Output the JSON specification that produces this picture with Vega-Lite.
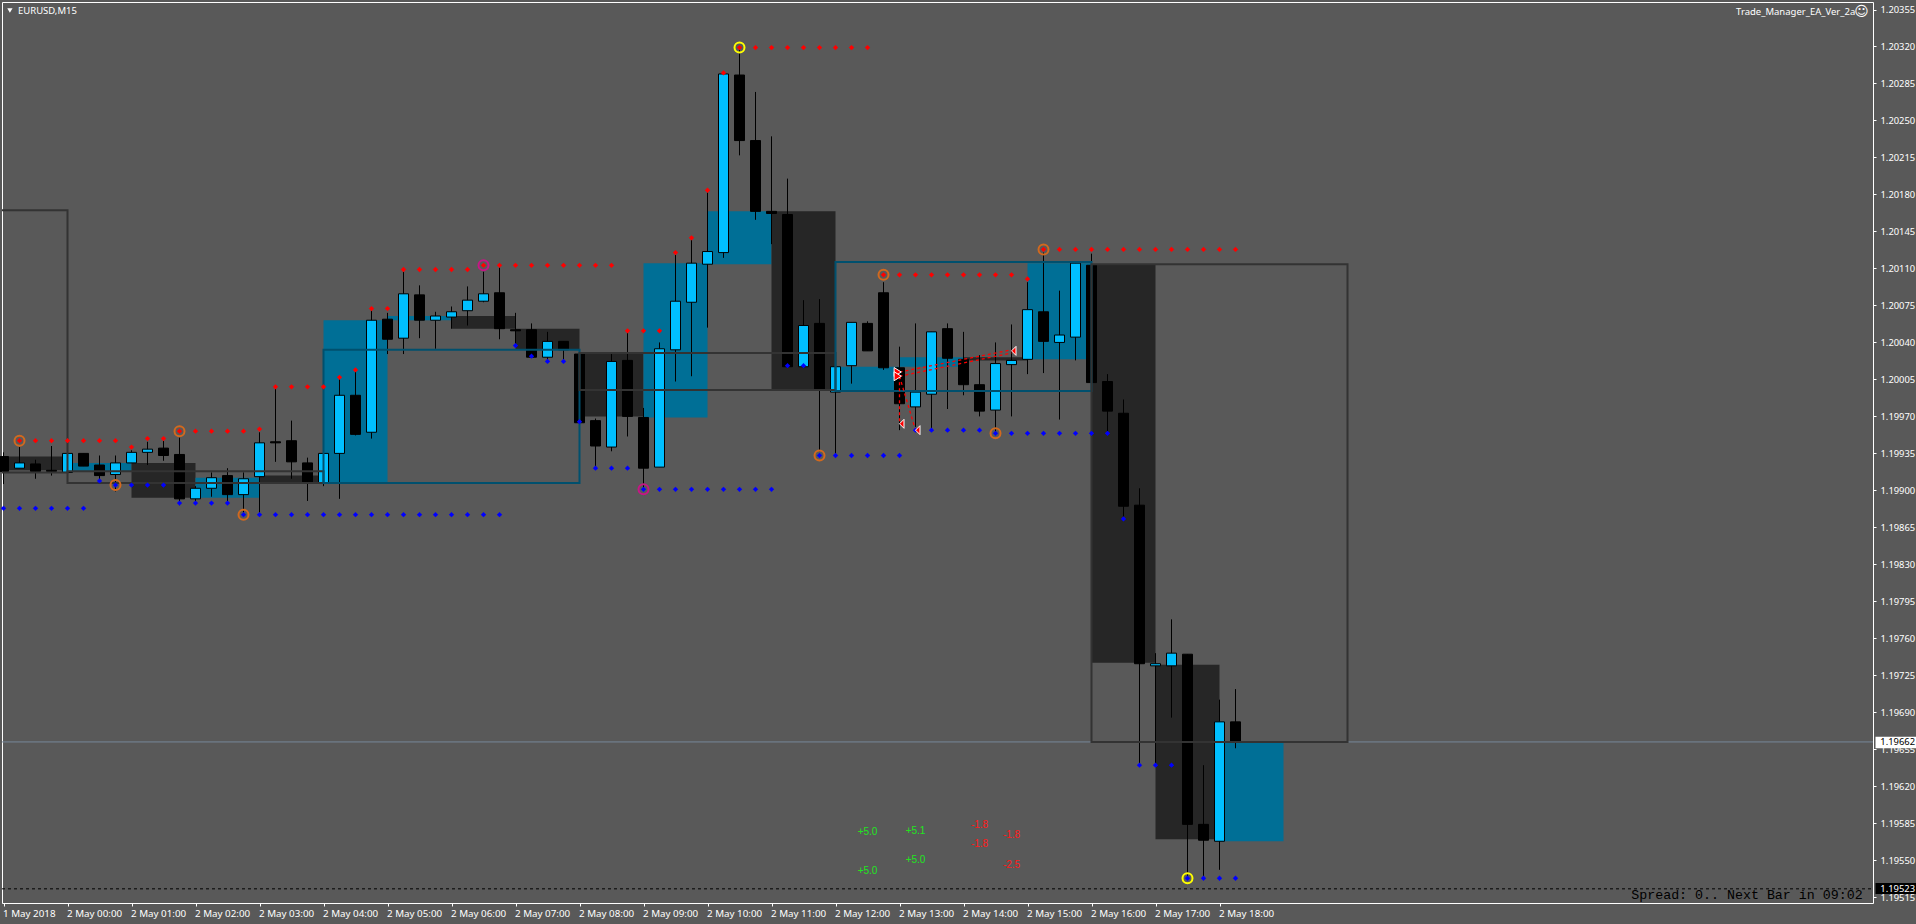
{"$schema":"https://vega.github.io/schema/vega-lite/v6.json",
"width":1871,"height":901,"autosize":{"type":"none"},"padding":{"left":2,"top":2,"right":43,"bottom":21},
"background":"#595959",
"config":{"view":{"stroke":"#ffffff","strokeWidth":1,"fill":"#595959"},"font":"Noto Sans"},
"datasets":{
"candles":[
{"t":"2018-05-01T23:00Z","o":1.19932,"h":1.19936,"l":1.19906,"c":1.19918},
{"t":"2018-05-01T23:15Z","o":1.19921,"h":1.19941,"l":1.19921,"c":1.19926},
{"t":"2018-05-01T23:30Z","o":1.19925,"h":1.19929,"l":1.19911,"c":1.19918},
{"t":"2018-05-01T23:45Z","o":1.19919,"h":1.19942,"l":1.19914,"c":1.19918},
{"t":"2018-05-02T00:00Z","o":1.19917,"h":1.19935,"l":1.19917,"c":1.19935},
{"t":"2018-05-02T00:15Z","o":1.19935,"h":1.19935,"l":1.19923,"c":1.19923},
{"t":"2018-05-02T00:30Z","o":1.19924,"h":1.19933,"l":1.19908,"c":1.19914},
{"t":"2018-05-02T00:45Z","o":1.19915,"h":1.19933,"l":1.19899,"c":1.19926},
{"t":"2018-05-02T01:00Z","o":1.19926,"h":1.19938,"l":1.19926,"c":1.19936},
{"t":"2018-05-02T01:15Z","o":1.19936,"h":1.19946,"l":1.19924,"c":1.19939},
{"t":"2018-05-02T01:30Z","o":1.1994,"h":1.19947,"l":1.19928,"c":1.19933},
{"t":"2018-05-02T01:45Z","o":1.19934,"h":1.1995,"l":1.19886,"c":1.19892},
{"t":"2018-05-02T02:00Z","o":1.19892,"h":1.19904,"l":1.19888,"c":1.19902},
{"t":"2018-05-02T02:15Z","o":1.19902,"h":1.19917,"l":1.19894,"c":1.19912},
{"t":"2018-05-02T02:30Z","o":1.19914,"h":1.19921,"l":1.19888,"c":1.19896},
{"t":"2018-05-02T02:45Z","o":1.19896,"h":1.19917,"l":1.19879,"c":1.19911},
{"t":"2018-05-02T03:00Z","o":1.19913,"h":1.19955,"l":1.19879,"c":1.19945},
{"t":"2018-05-02T03:15Z","o":1.19946,"h":1.19997,"l":1.19927,"c":1.19945},
{"t":"2018-05-02T03:30Z","o":1.19947,"h":1.19966,"l":1.19911,"c":1.19927},
{"t":"2018-05-02T03:45Z","o":1.19926,"h":1.19931,"l":1.1989,"c":1.19908},
{"t":"2018-05-02T04:00Z","o":1.19907,"h":1.19935,"l":1.19904,"c":1.19935},
{"t":"2018-05-02T04:15Z","o":1.19935,"h":1.20007,"l":1.19892,"c":1.1999},
{"t":"2018-05-02T04:30Z","o":1.1999,"h":1.20014,"l":1.19952,"c":1.19953},
{"t":"2018-05-02T04:45Z","o":1.19955,"h":1.20071,"l":1.19949,"c":1.20061},
{"t":"2018-05-02T05:00Z","o":1.20062,"h":1.20068,"l":1.20029,"c":1.20043},
{"t":"2018-05-02T05:15Z","o":1.20044,"h":1.20107,"l":1.20029,"c":1.20086},
{"t":"2018-05-02T05:30Z","o":1.20085,"h":1.20094,"l":1.20044,"c":1.20061},
{"t":"2018-05-02T05:45Z","o":1.20061,"h":1.20069,"l":1.20034,"c":1.20065},
{"t":"2018-05-02T06:00Z","o":1.20064,"h":1.20074,"l":1.20053,"c":1.20069},
{"t":"2018-05-02T06:15Z","o":1.2007,"h":1.20093,"l":1.20056,"c":1.2008},
{"t":"2018-05-02T06:30Z","o":1.20079,"h":1.20107,"l":1.20078,"c":1.20086},
{"t":"2018-05-02T06:45Z","o":1.20087,"h":1.20111,"l":1.20043,"c":1.20053},
{"t":"2018-05-02T07:00Z","o":1.20052,"h":1.20068,"l":1.20036,"c":1.20051},
{"t":"2018-05-02T07:15Z","o":1.20052,"h":1.20058,"l":1.20026,"c":1.20026},
{"t":"2018-05-02T07:30Z","o":1.20026,"h":1.2005,"l":1.20022,"c":1.20041},
{"t":"2018-05-02T07:45Z","o":1.20041,"h":1.20041,"l":1.20022,"c":1.20033},
{"t":"2018-05-02T08:00Z","o":1.20029,"h":1.20029,"l":1.19964,"c":1.19964},
{"t":"2018-05-02T08:15Z","o":1.19966,"h":1.19968,"l":1.19921,"c":1.19942},
{"t":"2018-05-02T08:30Z","o":1.19941,"h":1.20029,"l":1.19937,"c":1.20022},
{"t":"2018-05-02T08:45Z","o":1.20023,"h":1.20049,"l":1.19951,"c":1.1997},
{"t":"2018-05-02T09:00Z","o":1.19969,"h":1.19978,"l":1.199,"c":1.19921},
{"t":"2018-05-02T09:15Z","o":1.19922,"h":1.2004,"l":1.19922,"c":1.20034},
{"t":"2018-05-02T09:30Z","o":1.20033,"h":1.20123,"l":1.20003,"c":1.20079},
{"t":"2018-05-02T09:45Z","o":1.20078,"h":1.20137,"l":1.20008,"c":1.20115},
{"t":"2018-05-02T10:00Z","o":1.20114,"h":1.20182,"l":1.20054,"c":1.20126},
{"t":"2018-05-02T10:15Z","o":1.20125,"h":1.20295,"l":1.2012,"c":1.20294},
{"t":"2018-05-02T10:30Z","o":1.20293,"h":1.20317,"l":1.20217,"c":1.20231},
{"t":"2018-05-02T10:45Z","o":1.20231,"h":1.20277,"l":1.20156,"c":1.20164},
{"t":"2018-05-02T11:00Z","o":1.20164,"h":1.20235,"l":1.20133,"c":1.20162},
{"t":"2018-05-02T11:15Z","o":1.20161,"h":1.20195,"l":1.20017,"c":1.20017},
{"t":"2018-05-02T11:30Z","o":1.20017,"h":1.2008,"l":1.20017,"c":1.20056},
{"t":"2018-05-02T11:45Z","o":1.20058,"h":1.20081,"l":1.19937,"c":1.19996},
{"t":"2018-05-02T12:00Z","o":1.19993,"h":1.20017,"l":1.19933,"c":1.20017},
{"t":"2018-05-02T12:15Z","o":1.20018,"h":1.20059,"l":1.20001,"c":1.20059},
{"t":"2018-05-02T12:30Z","o":1.20058,"h":1.2006,"l":1.20032,"c":1.20032},
{"t":"2018-05-02T12:45Z","o":1.20087,"h":1.20097,"l":1.20014,"c":1.20016},
{"t":"2018-05-02T13:00Z","o":1.20016,"h":1.20036,"l":1.19957,"c":1.19982},
{"t":"2018-05-02T13:15Z","o":1.19979,"h":1.20058,"l":1.1996,"c":1.19993},
{"t":"2018-05-02T13:30Z","o":1.19991,"h":1.2005,"l":1.19957,"c":1.2005},
{"t":"2018-05-02T13:45Z","o":1.20053,"h":1.20058,"l":1.19977,"c":1.20025},
{"t":"2018-05-02T14:00Z","o":1.20024,"h":1.2005,"l":1.1999,"c":1.2},
{"t":"2018-05-02T14:15Z","o":1.2,"h":1.20028,"l":1.1997,"c":1.19975},
{"t":"2018-05-02T14:30Z","o":1.19976,"h":1.2004,"l":1.19954,"c":1.2002},
{"t":"2018-05-02T14:45Z","o":1.20019,"h":1.20057,"l":1.1997,"c":1.20023},
{"t":"2018-05-02T15:00Z","o":1.20024,"h":1.20097,"l":1.2001,"c":1.20071},
{"t":"2018-05-02T15:15Z","o":1.20069,"h":1.20125,"l":1.20011,"c":1.20041},
{"t":"2018-05-02T15:30Z","o":1.2004,"h":1.20089,"l":1.19967,"c":1.20047},
{"t":"2018-05-02T15:45Z","o":1.20045,"h":1.20115,"l":1.20023,"c":1.20115},
{"t":"2018-05-02T16:00Z","o":1.20113,"h":1.20124,"l":1.20002,"c":1.20002},
{"t":"2018-05-02T16:15Z","o":1.20003,"h":1.2001,"l":1.19954,"c":1.19975},
{"t":"2018-05-02T16:30Z","o":1.19973,"h":1.19986,"l":1.19873,"c":1.19885},
{"t":"2018-05-02T16:45Z","o":1.19886,"h":1.19902,"l":1.1964,"c":1.19736},
{"t":"2018-05-02T17:00Z","o":1.19734,"h":1.19746,"l":1.1964,"c":1.19736},
{"t":"2018-05-02T17:15Z","o":1.19734,"h":1.19778,"l":1.19685,"c":1.19746},
{"t":"2018-05-02T17:30Z","o":1.19745,"h":1.19745,"l":1.19535,"c":1.19584},
{"t":"2018-05-02T17:45Z","o":1.19584,"h":1.1964,"l":1.19533,"c":1.19569},
{"t":"2018-05-02T18:00Z","o":1.19568,"h":1.19702,"l":1.19541,"c":1.19681},
{"t":"2018-05-02T18:15Z","o":1.19681,"h":1.19712,"l":1.19656,"c":1.19662}
],
"hourly":[
{"t":"2018-05-01T23:00Z","t2":"2018-05-02T00:00Z","p":1.19932,"p2":1.19919,"dir":"down"},
{"t":"2018-05-02T00:00Z","t2":"2018-05-02T01:00Z","p":1.19926,"p2":1.19918,"dir":"up"},
{"t":"2018-05-02T01:00Z","t2":"2018-05-02T02:00Z","p":1.19926,"p2":1.19893,"dir":"down"},
{"t":"2018-05-02T02:00Z","t2":"2018-05-02T03:00Z","p":1.19912,"p2":1.19893,"dir":"up"},
{"t":"2018-05-02T03:00Z","t2":"2018-05-02T04:00Z","p":1.19914,"p2":1.19907,"dir":"down"},
{"t":"2018-05-02T04:00Z","t2":"2018-05-02T05:00Z","p":1.20061,"p2":1.19907,"dir":"up"},
{"t":"2018-05-02T05:00Z","t2":"2018-05-02T06:00Z","p":1.20065,"p2":1.20061,"dir":"up"},
{"t":"2018-05-02T06:00Z","t2":"2018-05-02T07:00Z","p":1.20065,"p2":1.20053,"dir":"down"},
{"t":"2018-05-02T07:00Z","t2":"2018-05-02T08:00Z","p":1.20053,"p2":1.20033,"dir":"down"},
{"t":"2018-05-02T08:00Z","t2":"2018-05-02T09:00Z","p":1.20031,"p2":1.1997,"dir":"down"},
{"t":"2018-05-02T09:00Z","t2":"2018-05-02T10:00Z","p":1.20115,"p2":1.19969,"dir":"up"},
{"t":"2018-05-02T10:00Z","t2":"2018-05-02T11:00Z","p":1.20164,"p2":1.20114,"dir":"up"},
{"t":"2018-05-02T11:00Z","t2":"2018-05-02T12:00Z","p":1.20164,"p2":1.19995,"dir":"down"},
{"t":"2018-05-02T12:00Z","t2":"2018-05-02T13:00Z","p":1.20017,"p2":1.19995,"dir":"up"},
{"t":"2018-05-02T13:00Z","t2":"2018-05-02T14:00Z","p":1.20026,"p2":1.20017,"dir":"up"},
{"t":"2018-05-02T14:00Z","t2":"2018-05-02T15:00Z","p":1.20026,"p2":1.20023,"dir":"down"},
{"t":"2018-05-02T15:00Z","t2":"2018-05-02T16:00Z","p":1.20115,"p2":1.20024,"dir":"up"},
{"t":"2018-05-02T16:00Z","t2":"2018-05-02T17:00Z","p":1.20114,"p2":1.19737,"dir":"down"},
{"t":"2018-05-02T17:00Z","t2":"2018-05-02T18:00Z","p":1.19735,"p2":1.1957,"dir":"down"},
{"t":"2018-05-02T18:00Z","t2":"2018-05-02T19:00Z","p":1.19661,"p2":1.19568,"dir":"up"}
],
"boxes":[
{"t":"2018-05-01T20:00Z","t2":"2018-05-02T00:00Z","p":1.20165,"p2":1.19917,"dir":"down"},
{"t":"2018-05-02T00:00Z","t2":"2018-05-02T04:00Z","p":1.19918,"p2":1.19907,"dir":"down"},
{"t":"2018-05-02T04:00Z","t2":"2018-05-02T08:00Z","p":1.20033,"p2":1.19907,"dir":"up"},
{"t":"2018-05-02T08:00Z","t2":"2018-05-02T12:00Z","p":1.2003,"p2":1.19995,"dir":"down"},
{"t":"2018-05-02T12:00Z","t2":"2018-05-02T16:00Z","p":1.20116,"p2":1.19994,"dir":"up"},
{"t":"2018-05-02T16:00Z","t2":"2018-05-02T20:00Z","p":1.20114,"p2":1.19662,"dir":"down"}
],
"levels":[
{"t":"2018-05-01T22:58:36Z","t2":"2018-05-03T04:12:39Z","p":1.19662,"kind":"bid"},
{"t":"2018-05-01T22:58:36Z","t2":"2018-05-03T04:12:39Z","p":1.19523,"kind":"ask"}
],
"upper":[
{"t":"2018-05-01T23:15Z","p":1.19947},{"t":"2018-05-01T23:30Z","p":1.19947},{"t":"2018-05-01T23:45Z","p":1.19947},{"t":"2018-05-02T00:00Z","p":1.19947},{"t":"2018-05-02T00:15Z","p":1.19947},{"t":"2018-05-02T00:30Z","p":1.19947},{"t":"2018-05-02T00:45Z","p":1.19947},
{"t":"2018-05-02T01:00Z","p":1.19941},{"t":"2018-05-02T01:15Z","p":1.19949},{"t":"2018-05-02T01:30Z","p":1.19949},
{"t":"2018-05-02T01:45Z","p":1.19956},{"t":"2018-05-02T02:00Z","p":1.19956},{"t":"2018-05-02T02:15Z","p":1.19956},{"t":"2018-05-02T02:30Z","p":1.19956},{"t":"2018-05-02T02:45Z","p":1.19956},
{"t":"2018-05-02T03:00Z","p":1.19958},{"t":"2018-05-02T03:15Z","p":1.19998},{"t":"2018-05-02T03:30Z","p":1.19998},{"t":"2018-05-02T03:45Z","p":1.19998},{"t":"2018-05-02T04:00Z","p":1.19998},
{"t":"2018-05-02T04:15Z","p":1.20007},{"t":"2018-05-02T04:30Z","p":1.20014},{"t":"2018-05-02T04:45Z","p":1.20072},{"t":"2018-05-02T05:00Z","p":1.20072},
{"t":"2018-05-02T05:15Z","p":1.20109},{"t":"2018-05-02T05:30Z","p":1.20109},{"t":"2018-05-02T05:45Z","p":1.20109},{"t":"2018-05-02T06:00Z","p":1.20109},{"t":"2018-05-02T06:15Z","p":1.20109},
{"t":"2018-05-02T06:30Z","p":1.20113},{"t":"2018-05-02T06:45Z","p":1.20113},{"t":"2018-05-02T07:00Z","p":1.20113},{"t":"2018-05-02T07:15Z","p":1.20113},{"t":"2018-05-02T07:30Z","p":1.20113},{"t":"2018-05-02T07:45Z","p":1.20113},{"t":"2018-05-02T08:00Z","p":1.20113},{"t":"2018-05-02T08:15Z","p":1.20113},{"t":"2018-05-02T08:30Z","p":1.20113},
{"t":"2018-05-02T08:45Z","p":1.20051},{"t":"2018-05-02T09:00Z","p":1.20051},{"t":"2018-05-02T09:15Z","p":1.20051},
{"t":"2018-05-02T09:30Z","p":1.20125},{"t":"2018-05-02T09:45Z","p":1.20139},{"t":"2018-05-02T10:00Z","p":1.20184},{"t":"2018-05-02T10:15Z","p":1.20295},
{"t":"2018-05-02T10:30Z","p":1.20319},{"t":"2018-05-02T10:45Z","p":1.20319},{"t":"2018-05-02T11:00Z","p":1.20319},{"t":"2018-05-02T11:15Z","p":1.20319},{"t":"2018-05-02T11:30Z","p":1.20319},{"t":"2018-05-02T11:45Z","p":1.20319},{"t":"2018-05-02T12:00Z","p":1.20319},{"t":"2018-05-02T12:15Z","p":1.20319},{"t":"2018-05-02T12:30Z","p":1.20319},
{"t":"2018-05-02T12:45Z","p":1.20104},{"t":"2018-05-02T13:00Z","p":1.20104},{"t":"2018-05-02T13:15Z","p":1.20104},{"t":"2018-05-02T13:30Z","p":1.20104},{"t":"2018-05-02T13:45Z","p":1.20104},{"t":"2018-05-02T14:00Z","p":1.20104},{"t":"2018-05-02T14:15Z","p":1.20104},{"t":"2018-05-02T14:30Z","p":1.20104},{"t":"2018-05-02T14:45Z","p":1.20104},
{"t":"2018-05-02T15:00Z","p":1.201},
{"t":"2018-05-02T15:15Z","p":1.20128},{"t":"2018-05-02T15:30Z","p":1.20128},{"t":"2018-05-02T15:45Z","p":1.20128},{"t":"2018-05-02T16:00Z","p":1.20128},{"t":"2018-05-02T16:15Z","p":1.20128},{"t":"2018-05-02T16:30Z","p":1.20128},{"t":"2018-05-02T16:45Z","p":1.20128},{"t":"2018-05-02T17:00Z","p":1.20128},{"t":"2018-05-02T17:15Z","p":1.20128},{"t":"2018-05-02T17:30Z","p":1.20128},{"t":"2018-05-02T17:45Z","p":1.20128},{"t":"2018-05-02T18:00Z","p":1.20128},{"t":"2018-05-02T18:15Z","p":1.20128}
],
"lower":[
{"t":"2018-05-01T23:00Z","p":1.19883},{"t":"2018-05-01T23:15Z","p":1.19883},{"t":"2018-05-01T23:30Z","p":1.19883},{"t":"2018-05-01T23:45Z","p":1.19883},{"t":"2018-05-02T00:00Z","p":1.19883},{"t":"2018-05-02T00:15Z","p":1.19883},
{"t":"2018-05-02T00:30Z","p":1.19909},{"t":"2018-05-02T00:45Z","p":1.19905},{"t":"2018-05-02T01:00Z","p":1.19905},{"t":"2018-05-02T01:15Z","p":1.19905},{"t":"2018-05-02T01:30Z","p":1.19905},
{"t":"2018-05-02T01:45Z","p":1.19888},{"t":"2018-05-02T02:00Z","p":1.19888},{"t":"2018-05-02T02:15Z","p":1.19888},{"t":"2018-05-02T02:30Z","p":1.19888},
{"t":"2018-05-02T02:45Z","p":1.19877},{"t":"2018-05-02T03:00Z","p":1.19877},{"t":"2018-05-02T03:15Z","p":1.19877},{"t":"2018-05-02T03:30Z","p":1.19877},{"t":"2018-05-02T03:45Z","p":1.19877},{"t":"2018-05-02T04:00Z","p":1.19877},{"t":"2018-05-02T04:15Z","p":1.19877},{"t":"2018-05-02T04:30Z","p":1.19877},{"t":"2018-05-02T04:45Z","p":1.19877},{"t":"2018-05-02T05:00Z","p":1.19877},{"t":"2018-05-02T05:15Z","p":1.19877},{"t":"2018-05-02T05:30Z","p":1.19877},{"t":"2018-05-02T05:45Z","p":1.19877},{"t":"2018-05-02T06:00Z","p":1.19877},{"t":"2018-05-02T06:15Z","p":1.19877},{"t":"2018-05-02T06:30Z","p":1.19877},{"t":"2018-05-02T06:45Z","p":1.19877},
{"t":"2018-05-02T07:00Z","p":1.20037},{"t":"2018-05-02T07:15Z","p":1.20027},{"t":"2018-05-02T07:30Z","p":1.20022},{"t":"2018-05-02T07:45Z","p":1.20022},
{"t":"2018-05-02T08:00Z","p":1.19965},{"t":"2018-05-02T08:15Z","p":1.19921},{"t":"2018-05-02T08:30Z","p":1.19921},{"t":"2018-05-02T08:45Z","p":1.19921},
{"t":"2018-05-02T09:00Z","p":1.19901},{"t":"2018-05-02T09:15Z","p":1.19901},{"t":"2018-05-02T09:30Z","p":1.19901},{"t":"2018-05-02T09:45Z","p":1.19901},{"t":"2018-05-02T10:00Z","p":1.19901},{"t":"2018-05-02T10:15Z","p":1.19901},{"t":"2018-05-02T10:30Z","p":1.19901},{"t":"2018-05-02T10:45Z","p":1.19901},{"t":"2018-05-02T11:00Z","p":1.19901},
{"t":"2018-05-02T11:15Z","p":1.20018},{"t":"2018-05-02T11:30Z","p":1.20018},
{"t":"2018-05-02T11:45Z","p":1.19933},{"t":"2018-05-02T12:00Z","p":1.19933},{"t":"2018-05-02T12:15Z","p":1.19933},{"t":"2018-05-02T12:30Z","p":1.19933},{"t":"2018-05-02T12:45Z","p":1.19933},{"t":"2018-05-02T13:00Z","p":1.19933},
{"t":"2018-05-02T13:15Z","p":1.19957},{"t":"2018-05-02T13:30Z","p":1.19957},{"t":"2018-05-02T13:45Z","p":1.19957},{"t":"2018-05-02T14:00Z","p":1.19957},{"t":"2018-05-02T14:15Z","p":1.19957},
{"t":"2018-05-02T14:30Z","p":1.19954},{"t":"2018-05-02T14:45Z","p":1.19954},{"t":"2018-05-02T15:00Z","p":1.19954},{"t":"2018-05-02T15:15Z","p":1.19954},{"t":"2018-05-02T15:30Z","p":1.19954},{"t":"2018-05-02T15:45Z","p":1.19954},{"t":"2018-05-02T16:00Z","p":1.19954},{"t":"2018-05-02T16:15Z","p":1.19954},
{"t":"2018-05-02T16:30Z","p":1.19873},
{"t":"2018-05-02T16:45Z","p":1.1964},{"t":"2018-05-02T17:00Z","p":1.1964},{"t":"2018-05-02T17:15Z","p":1.1964},
{"t":"2018-05-02T17:30Z","p":1.19533},{"t":"2018-05-02T17:45Z","p":1.19533},{"t":"2018-05-02T18:00Z","p":1.19533},{"t":"2018-05-02T18:15Z","p":1.19533}
],
"rings":[
{"t":"2018-05-01T23:15Z","p":1.19947,"tier":"minor"},
{"t":"2018-05-02T00:45Z","p":1.19905,"tier":"minor"},
{"t":"2018-05-02T01:45Z","p":1.19956,"tier":"minor"},
{"t":"2018-05-02T02:45Z","p":1.19877,"tier":"minor"},
{"t":"2018-05-02T06:30Z","p":1.20113,"tier":"mid"},
{"t":"2018-05-02T09:00Z","p":1.19901,"tier":"mid"},
{"t":"2018-05-02T10:30Z","p":1.20319,"tier":"major"},
{"t":"2018-05-02T11:45Z","p":1.19933,"tier":"minor"},
{"t":"2018-05-02T12:45Z","p":1.20104,"tier":"minor"},
{"t":"2018-05-02T14:30Z","p":1.19954,"tier":"minor"},
{"t":"2018-05-02T15:15Z","p":1.20128,"tier":"minor"},
{"t":"2018-05-02T17:30Z","p":1.19533,"tier":"major"}
],
"tradeLines":[
{"t":"2018-05-02T13:00Z","p":1.20012,"id":"a"},{"t":"2018-05-02T14:45Z","p":1.20033,"id":"a"},
{"t":"2018-05-02T13:00Z","p":1.20008,"id":"b"},{"t":"2018-05-02T14:45Z","p":1.2003,"id":"b"},
{"t":"2018-05-02T13:00Z","p":1.20008,"id":"c"},{"t":"2018-05-02T13:00Z","p":1.19963,"id":"c"},
{"t":"2018-05-02T13:00Z","p":1.20008,"id":"d"},{"t":"2018-05-02T13:15Z","p":1.19957,"id":"d"}
],
"exits":[
{"t":"2018-05-02T13:00Z","p":1.19963},{"t":"2018-05-02T13:15Z","p":1.19957},{"t":"2018-05-02T14:45Z","p":1.20032}
],
"entries":[
{"t":"2018-05-02T13:00Z","p":1.20012},{"t":"2018-05-02T13:00Z","p":1.20008}
],
"profits":[
{"t":"2018-05-02T12:30Z","p":1.19577,"label":"+5.0"},{"t":"2018-05-02T13:15Z","p":1.19578,"label":"+5.1"},
{"t":"2018-05-02T13:15Z","p":1.1955,"label":"+5.0"},{"t":"2018-05-02T12:30Z","p":1.1954,"label":"+5.0"}
],
"losses":[
{"t":"2018-05-02T14:15Z","p":1.19583,"label":"-1.8"},{"t":"2018-05-02T14:15Z","p":1.19565,"label":"-1.8"},
{"t":"2018-05-02T14:45Z","p":1.19574,"label":"-1.8"},{"t":"2018-05-02T14:45Z","p":1.19546,"label":"-2.5"}
],
"priceBoxes":[
{"t":"2018-05-03T04:15Z","t2":"2018-05-03T04:54Z","p":1.19667,"p2":1.19656,"kind":"bid"},
{"t":"2018-05-03T04:15Z","t2":"2018-05-03T04:54Z","p":1.195285,"p2":1.19518,"kind":"ask"}
],
"priceTags":[
{"t":"2018-05-03T04:19:30Z","p":1.19662,"label":"1.19662","kind":"bid"},
{"t":"2018-05-03T04:19:30Z","p":1.19523,"label":"1.19523","kind":"ask"}
]
},
"encoding":{
"x":{"field":"t","type":"temporal","title":null,"scale":{"type":"utc","nice":false,"padding":0,"domain":["2018-05-01T22:58:35.625Z","2018-05-03T04:12:39.375Z"]},
"axis":{"values":[1525215600000,1525219200000,1525222800000,1525226400000,1525230000000,1525233600000,1525237200000,1525240800000,1525244400000,1525248000000,1525251600000,1525255200000,1525258800000,1525262400000,1525266000000,1525269600000,1525273200000,1525276800000,1525280400000,1525284000000],
"labelExpr":"time(datum.value) < 1525219200000 ? '1 May 2018' : '2 May ' + utcFormat(datum.value,'%H:%M')",
"grid":false,"domain":false,"tickColor":"#ffffff","tickSize":3,"labelColor":"#ffffff","labelFont":"Noto Sans","labelFontSize":9.8,"labelAlign":"left","labelBaseline":"middle","labelPadding":7,"labelOffset":-1,"labelFlush":false,"labelBound":false,"labelOverlap":false}},
"y":{"field":"p","type":"quantitative","title":null,"scale":{"domain":[1.195096,1.203621],"nice":false,"zero":false},
"axis":{"orient":"right","values":[1.19515,1.1955,1.19585,1.1962,1.19655,1.1969,1.19725,1.1976,1.19795,1.1983,1.19865,1.199,1.19935,1.1997,1.20005,1.2004,1.20075,1.2011,1.20145,1.2018,1.20215,1.2025,1.20285,1.2032,1.20355],
"format":".5f","grid":false,"domain":false,"tickColor":"#ffffff","tickSize":3,"labelColor":"#ffffff","labelFont":"Noto Sans","labelFontSize":9.4,"labelPadding":4,"labelBound":false,"labelOverlap":false,"labelFlush":false}}
},
"layer":[
{"data":{"name":"hourly"},"mark":{"type":"rect"},"encoding":{"x2":{"field":"t2"},"y2":{"field":"p2"},"color":{"condition":{"test":"datum.dir==='up'","value":"#006f96"},"value":"#262626"}}},
{"data":{"name":"levels"},"transform":[{"filter":"datum.kind==='bid'"}],"mark":{"type":"rule","color":"#778899","strokeWidth":1},"encoding":{"x2":{"field":"t2"}}},
{"data":{"name":"levels"},"transform":[{"filter":"datum.kind==='ask'"}],"mark":{"type":"rule","color":"#000000","strokeWidth":1,"strokeDash":[3,3]},"encoding":{"x2":{"field":"t2"}}},
{"data":{"name":"candles"},"mark":{"type":"rule","color":"#000000","strokeWidth":1},"encoding":{"y":{"field":"h","type":"quantitative","title":null,"scale":{"domain":[1.195096,1.203621],"nice":false,"zero":false},
"axis":{"orient":"right","values":[1.19515,1.1955,1.19585,1.1962,1.19655,1.1969,1.19725,1.1976,1.19795,1.1983,1.19865,1.199,1.19935,1.1997,1.20005,1.2004,1.20075,1.2011,1.20145,1.2018,1.20215,1.2025,1.20285,1.2032,1.20355],
"format":".5f","grid":false,"domain":false,"tickColor":"#ffffff","tickSize":3,"labelColor":"#ffffff","labelFont":"Noto Sans","labelFontSize":9.4,"labelPadding":4,"labelBound":false,"labelOverlap":false,"labelFlush":false}},"y2":{"field":"l"}}},
{"data":{"name":"candles"},"mark":{"type":"bar","size":10,"stroke":"#000000","strokeWidth":1},"encoding":{"y":{"field":"o","type":"quantitative","title":null,"scale":{"domain":[1.195096,1.203621],"nice":false,"zero":false},
"axis":{"orient":"right","values":[1.19515,1.1955,1.19585,1.1962,1.19655,1.1969,1.19725,1.1976,1.19795,1.1983,1.19865,1.199,1.19935,1.1997,1.20005,1.2004,1.20075,1.2011,1.20145,1.2018,1.20215,1.2025,1.20285,1.2032,1.20355],
"format":".5f","grid":false,"domain":false,"tickColor":"#ffffff","tickSize":3,"labelColor":"#ffffff","labelFont":"Noto Sans","labelFontSize":9.4,"labelPadding":4,"labelBound":false,"labelOverlap":false,"labelFlush":false}},"y2":{"field":"c"},"color":{"condition":{"test":"datum.c>=datum.o","value":"#00bfff"},"value":"#000000"}}},
{"data":{"name":"boxes"},"mark":{"type":"rect","fill":"transparent","strokeWidth":2,"clip":true},"encoding":{"x2":{"field":"t2"},"y2":{"field":"p2"},"stroke":{"condition":{"test":"datum.dir==='up'","value":"#00506e"},"value":"#333333"}}},
{"data":{"name":"tradeLines"},"mark":{"type":"line","color":"#ff0000","strokeWidth":1.3,"strokeDash":[3,3]},"encoding":{"detail":{"field":"id"}}},
{"data":{"name":"upper"},"mark":{"type":"point","shape":"diamond","filled":true,"size":28,"color":"#ff0000","opacity":1}},
{"data":{"name":"lower"},"mark":{"type":"point","shape":"diamond","filled":true,"size":28,"color":"#0000ff","opacity":1}},
{"data":{"name":"rings"},"mark":{"type":"point","shape":"circle","filled":false,"size":100,"strokeWidth":2,"opacity":1},"encoding":{"stroke":{"condition":[{"test":"datum.tier==='major'","value":"#ffff00"},{"test":"datum.tier==='mid'","value":"#c71585"}],"value":"#d2691e"}}},
{"data":{"name":"exits"},"mark":{"type":"point","shape":"M1,-1L0,0L1,1Z","filled":true,"size":81,"fill":"#ff0000","stroke":"#ffffff","strokeWidth":1,"opacity":1}},
{"data":{"name":"entries"},"mark":{"type":"point","shape":"M-1.2,-1L0.4,0L-1.2,1Z","filled":true,"size":81,"fill":"#ff0000","stroke":"#ffffff","strokeWidth":1,"opacity":1}},
{"data":{"name":"profits"},"mark":{"type":"text","font":"Liberation Sans","fontSize":10,"color":"#1ee61e","align":"center","baseline":"middle"},"encoding":{"text":{"field":"label"}}},
{"data":{"name":"losses"},"mark":{"type":"text","font":"Liberation Sans","fontSize":10,"color":"#ff1a1a","align":"center","baseline":"middle"},"encoding":{"text":{"field":"label"}}},
{"data":{"name":"priceBoxes"},"mark":{"type":"rect"},"encoding":{"x2":{"field":"t2"},"y2":{"field":"p2"},"color":{"condition":{"test":"datum.kind==='bid'","value":"#ffffff"},"value":"#000000"}}},
{"data":{"name":"priceTags"},"mark":{"type":"text","font":"Noto Sans","fontSize":9.4,"align":"left","baseline":"middle"},"encoding":{"text":{"field":"label"},"color":{"condition":{"test":"datum.kind==='bid'","value":"#000000"},"value":"#ffffff"}}},
{"data":{"values":[{"t":"2018-05-01T23:13:36Z","p":1.20354,"label":"EURUSD,M15"}]},"mark":{"type":"text","font":"Noto Sans","fontSize":9.5,"color":"#ffffff","align":"left","baseline":"middle"},"encoding":{"text":{"field":"label"}}},
{"data":{"values":[{"t":"2018-05-01T23:06Z","p":1.20354}]},"mark":{"type":"point","shape":"triangle-down","filled":true,"size":28,"color":"#ffffff","opacity":1}},
{"data":{"values":[{"t":"2018-05-03T03:56Z","p":1.20353,"label":"Trade_Manager_EA_Ver_2a"}]},"mark":{"type":"text","font":"Noto Sans","fontSize":9.5,"color":"#ffffff","align":"right","baseline":"middle"},"encoding":{"text":{"field":"label"}}},
{"data":{"values":[{"t":"2018-05-03T04:02Z","p":1.20353,"label":"☺"}]},"mark":{"type":"text","font":"DejaVu Sans","fontSize":14,"color":"#ffffff","align":"center","baseline":"middle"},"encoding":{"text":{"field":"label"}}},
{"data":{"values":[{"t":"2018-05-03T00:26Z","p":1.19517,"label":"Spread: 0.. Next Bar in 09:02"}]},"mark":{"type":"text","font":"Liberation Mono","fontSize":13.3,"color":"#000000","align":"left","baseline":"middle"},"encoding":{"text":{"field":"label"}}}
]}
